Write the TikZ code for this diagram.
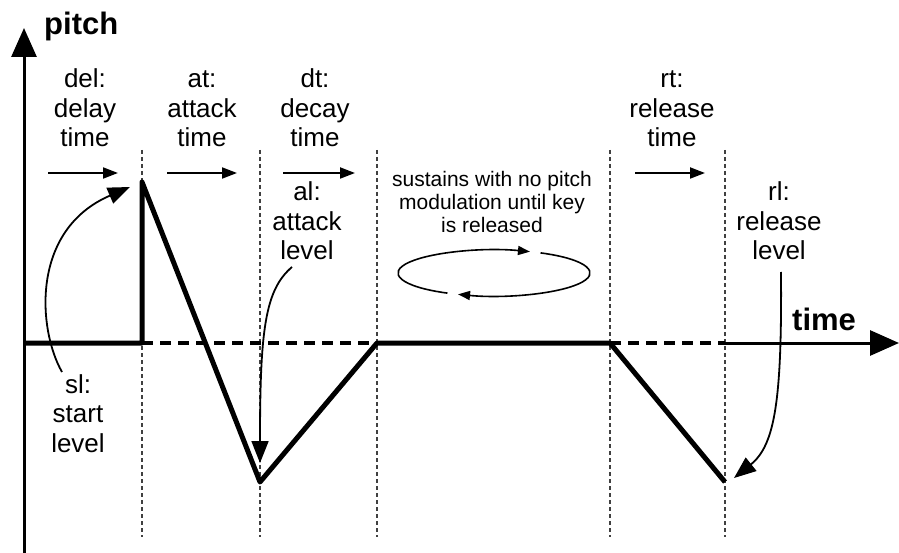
\documentclass[tikz,border=0pt]{standalone}
\usepackage{fontspec}
\setmainfont{Liberation Sans}
\usetikzlibrary{arrows.meta}
\begin{document}
\begin{tikzpicture}[x=1pt,y=-1pt,
  axis/.style={line width=3pt},
  bigtip/.style={-{Triangle[length=29pt,width=25pt]}},
  env/.style={line width=5pt,line join=round},
  envdash/.style={line width=3.5pt,dash pattern=on 11pt off 7pt},
  guide/.style={line width=1.4pt,dash pattern=on 4pt off 3pt,black!75},
  spanarrow/.style={line width=2pt,-{Triangle[length=15pt,width=11pt]}},
  pointer/.style={line width=1.8pt,-{Triangle[length=22pt,width=17pt]}},
  looparrow/.style={line width=1.6pt,-{Triangle[length=12pt,width=9pt]}},
  lbl/.style={font=\fontsize{26}{29.5}\selectfont,align=center,anchor=base,inner sep=0pt},
  small/.style={font=\fontsize{21}{23}\selectfont,align=center,anchor=base,inner sep=0pt},
  axislbl/.style={font=\fontsize{31}{31}\selectfont\bfseries,anchor=base west,inner sep=0pt}]
\useasboundingbox (0,0) rectangle (899,553);

% key points of the envelope
\coordinate (o)  at (24,343);
\coordinate (s0) at (142,343);
\coordinate (pk) at (142,182);
\coordinate (v1) at (260,482);
\coordinate (d1) at (377,343);
\coordinate (r1) at (610,343);
\coordinate (v2) at (725,482);
\coordinate (r2) at (725,343);

% segment boundaries
\foreach \n/\x in {g1/142,g2/260,g3/377,g4/610,g5/725} {
  \coordinate (\n top) at (\x,150);
  \coordinate (\n bot) at (\x,537);
  \draw[guide] (\n top) -- (\n bot);
}

% axes (the time axis is formed by the envelope up to the release point)
\coordinate (ybot) at (24,553);
\coordinate (ytop) at (24,28);
\coordinate (xend) at (899,343);
\draw[axis,bigtip] (ybot) -- (ytop);
\draw[axis,bigtip] (r2) -- (xend);
\node[axislbl] (pitch) at (44,35) {pitch};
\node[axislbl] (time) at (792,330) {time};

% envelope
\draw[envdash] (s0) -- (d1);
\draw[envdash] (r1) -- (r2);
\draw[env] (o) -- (s0) -- (pk) -- (v1) -- (d1) -- (r1) -- (v2);

% time spans (anchored at the baseline of the last line)
\node[lbl] (del) at (85,147)  {del:\\delay\\time};
\node[lbl] (at)  at (202,147) {at:\\attack\\time};
\node[lbl] (dt)  at (315,147) {dt:\\decay\\time};
\node[lbl] (rt)  at (672,147) {rt:\\release\\time};
\foreach \n/\a/\b in {d/48/118,a/167/237,e/283/355,r/635/705} {
  \coordinate (\n s) at (\a,173);
  \coordinate (\n e) at (\b,173);
  \draw[spanarrow] (\n s) -- (\n e);
}

% levels
\node[lbl] (al) at (307,260) {al:\\attack\\level};
\node[lbl] (rl) at (779,260) {rl:\\release\\level};
\node[lbl] (sl) at (78,452)  {sl:\\start\\level};

\coordinate (slfrom) at (62,372);
\coordinate (slto)   at (130,187);
\draw[pointer] (slfrom) .. controls (38,330) and (30,230) .. (slto);
\coordinate (alfrom) at (292,267);
\coordinate (alto)   at (260,463);
\draw[pointer] (alfrom) .. controls (265,290) and (260,330) .. (alto);
\coordinate (rlfrom) at (781,272);
\coordinate (rlto)   at (734,478);
\draw[pointer] (rlfrom) .. controls (782,400) and (775,445) .. (rlto);

% sustain
\node[small] (sus) at (492,233) {sustains with no pitch\\modulation until key\\is released};
\coordinate (c) at (494,273);
\draw[looparrow] (c) ++(119:96 and 23) arc[start angle=119,end angle=292,x radius=96,y radius=23];
\draw[looparrow] (c) ++(-61:96 and 23) arc[start angle=-61,end angle=112,x radius=96,y radius=23];
\end{tikzpicture}
\end{document}
